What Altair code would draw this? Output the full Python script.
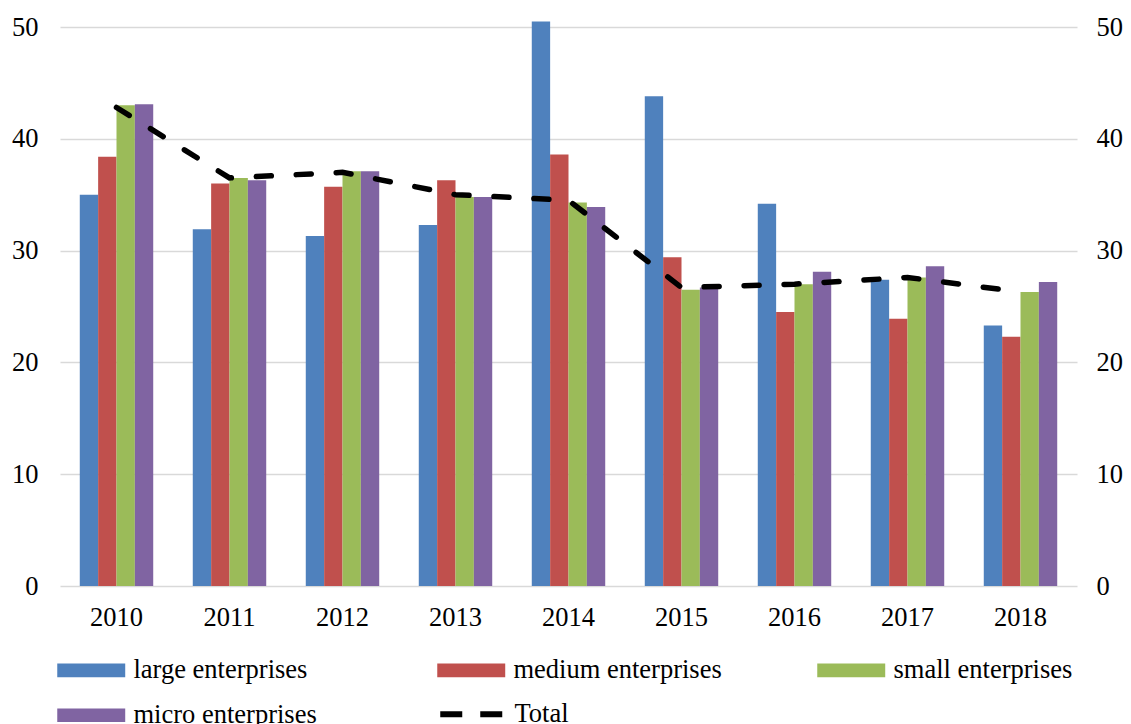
import altair as alt
import pandas as pd

years = ["2010", "2011", "2012", "2013", "2014", "2015", "2016", "2017", "2018"]
series = ["large enterprises", "medium enterprises", "small enterprises", "micro enterprises"]
large = [35.0, 31.9, 31.3, 32.3, 50.5, 43.8, 34.2, 27.4, 23.3]
medium = [38.4, 36.0, 35.7, 36.3, 38.6, 29.4, 24.5, 23.9, 22.3]
small = [43.0, 36.5, 37.1, 34.8, 34.3, 26.5, 27.0, 27.6, 26.3]
micro = [43.1, 36.3, 37.1, 34.8, 33.9, 26.7, 28.1, 28.6, 27.2]
total = [42.8, 36.5, 37.0, 35.0, 34.5, 26.7, 27.0, 27.6, 26.3]
colors = ["#4f81bd", "#c0504d", "#9bbb59", "#8064a2"]
y_ticks = [0, 10, 20, 30, 40, 50]

rows = []
for s, vals in zip(series, [large, medium, small, micro]):
    for y, v in zip(years, vals):
        rows.append({"year": y, "series": s, "value": v})
df = pd.DataFrame(rows)
tdf = pd.DataFrame({"year": years, "value": total, "series": ["Total"] * len(years)})

font = "Liberation Serif"
fs = 26.5

# legend symbols: small nominal size (keeps rows compact), path drawn wider
rect_path = "M-1,-0.97L8.71,-0.97L8.71,0.97L-1,0.97Z"
dash_path = "M-1,0L8.71,0"

bars = alt.Chart(df).mark_bar().encode(
    x=alt.X("year:N", sort=years, title=None,
            scale=alt.Scale(paddingInner=0.35, paddingOuter=0.175),
            axis=alt.Axis(labelAngle=0, ticks=False, domain=False, labelPadding=18,
                          labelFont=font, labelFontSize=fs, labelColor="black")),
    xOffset=alt.XOffset("series:N", sort=series,
                        scale=alt.Scale(paddingInner=0, paddingOuter=0)),
    y=alt.Y("value:Q", title=None, scale=alt.Scale(domain=[0, 50]),
            axis=alt.Axis(values=y_ticks, orient="left", grid=True, gridColor="#d9d9d9",
                          gridWidth=1.5, ticks=False, domain=False, labelPadding=22,
                          labelFont=font, labelFontSize=fs, labelColor="black")),
    color=alt.Color("series:N", sort=series,
                    scale=alt.Scale(domain=series, range=colors),
                    legend=alt.Legend(title=None, orient="none", legendX=-9, legendY=630,
                                      direction="horizontal",
                                      columns=3, gridAlign="all", columnPadding=89,
                                      rowPadding=18,
                                      symbolType=rect_path,
                                      symbolSize=196, symbolStrokeWidth=0, symbolOpacity=1,
                                      labelFont=font, labelFontSize=fs, labelLimit=500,
                                      labelOffset=56, labelColor="black")),
)

line = alt.Chart(tdf).mark_line(strokeWidth=5.5, strokeDash=[15, 25], strokeCap="round").encode(
    x=alt.X("year:N", sort=years),
    y=alt.Y("value:Q", title=None, scale=alt.Scale(domain=[0, 50]),
            axis=alt.Axis(values=y_ticks, orient="right", grid=False, ticks=False, domain=False,
                          labelPadding=19, labelFont=font, labelFontSize=fs, labelColor="black")),
    color=alt.Color("series:N", scale=alt.Scale(domain=["Total"], range=["black"]),
                    legend=alt.Legend(title=None, orient="none", legendX=374, legendY=674,
                                      symbolType=dash_path, symbolSize=196, symbolStrokeWidth=6,
                                      symbolDash=[22, 18], symbolStrokeColor="black",
                                      symbolFillColor="transparent",
                                      labelFont=font, labelFontSize=fs, labelLimit=500,
                                      labelOffset=54, labelColor="black")),
)

chart = alt.layer(bars, line).resolve_scale(y="independent", color="independent").properties(
    width=1017, height=559,
    padding={"left": 52, "top": 19, "right": 46, "bottom": 138},
    autosize=alt.AutoSizeParams(type="none"),
).configure_view(stroke=None)

chart.save("out.html", embed_options={"renderer": "svg", "actions": False})
